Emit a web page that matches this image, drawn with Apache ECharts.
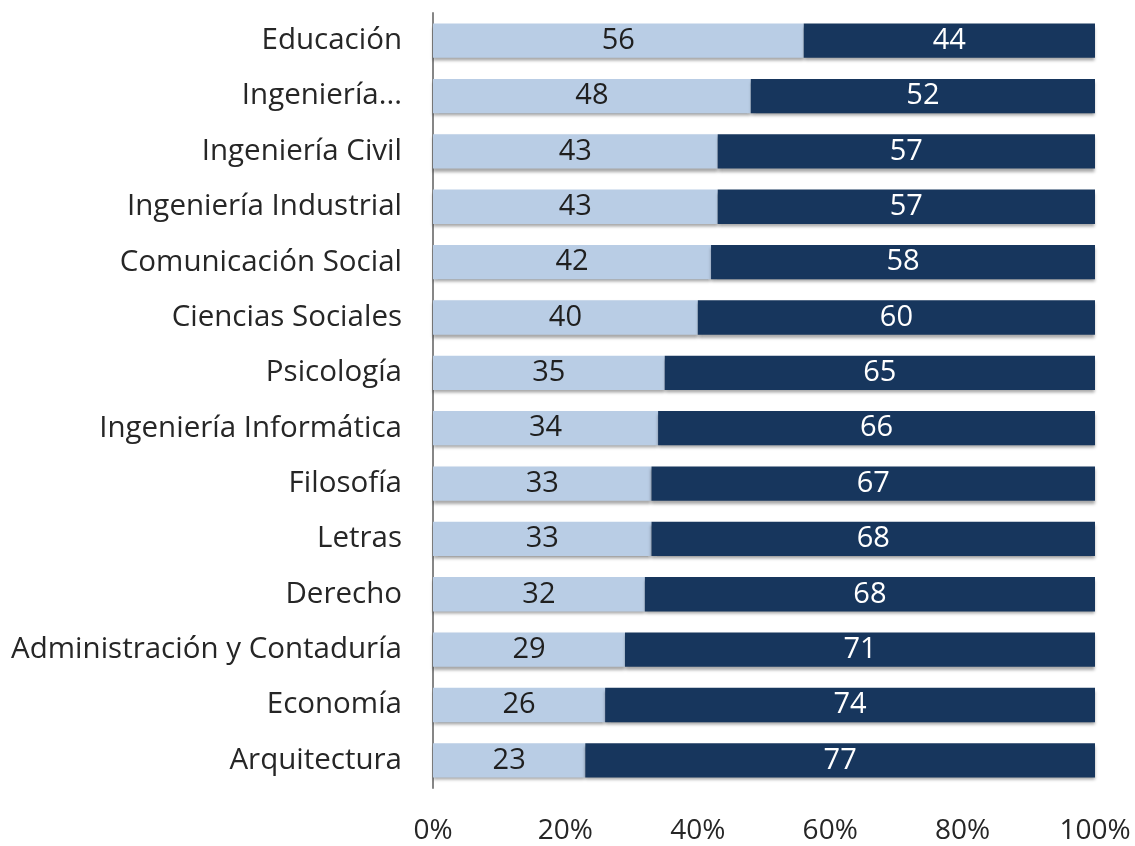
<!DOCTYPE html>
<html>
<head>
<meta charset="utf-8">
<script src="https://cdn.jsdelivr.net/npm/echarts@6/dist/echarts.min.js"></script>
<style>
  html, body { margin: 0; padding: 0; background: #fff; }
  #chart { width: 1135px; height: 846px; }
</style>
</head>
<body>
<div id="chart"></div>
<script>
  // carreras, de arriba hacia abajo
  var categories = ['Educación', 'Ingeniería...', 'Ingeniería Civil', 'Ingeniería Industrial',
    'Comunicación Social', 'Ciencias Sociales', 'Psicología', 'Ingeniería Informática',
    'Filosofía', 'Letras', 'Derecho', 'Administración y Contaduría', 'Economía', 'Arquitectura'];
  var lightValues = [56, 48, 43, 43, 42, 40, 35, 34, 33, 33, 32, 29, 26, 23];
  var darkValues = [44, 52, 57, 57, 58, 60, 65, 66, 67, 68, 68, 71, 74, 77];
  var tickValues = [0, 20, 40, 60, 80, 100];

  var font = '"Open Sans", sans-serif';
  var shadow = {
    shadowColor: 'rgba(0,0,0,0.35)',
    shadowOffsetY: 3,
    shadowBlur: 3
  };

  var chart = echarts.init(document.getElementById('chart'));
  chart.setOption({
    animation: false,
    grid: { left: 433, right: 40, top: 13, bottom: 58 },
    xAxis: {
      type: 'value',
      min: tickValues[0],
      max: tickValues[tickValues.length - 1],
      interval: 20,
      axisLine: { show: false },
      axisTick: { show: false },
      splitLine: { show: false },
      axisLabel: {
        formatter: '{value}%',
        color: '#262626',
        fontSize: 28,
        fontFamily: font,
        margin: 29
      }
    },
    yAxis: {
      type: 'category',
      inverse: true,
      data: categories,
      axisLine: { show: true, lineStyle: { color: '#868686', width: 2 } },
      axisTick: { show: false },
      axisLabel: {
        color: '#262626',
        fontSize: 29.5,
        fontFamily: font,
        margin: 31
      }
    },
    series: [{
      type: 'bar',
      stack: 'total',
      barWidth: '62%',
      data: lightValues,
      itemStyle: Object.assign({ color: '#b9cde5' }, shadow),
      label: {
        show: true,
        position: 'inside',
        color: '#1f1f1f',
        fontSize: 29,
        fontFamily: font
      }
    }, {
      type: 'bar',
      stack: 'total',
      barWidth: '62%',
      data: darkValues,
      itemStyle: Object.assign({ color: '#17365d' }, shadow),
      label: {
        show: true,
        position: 'inside',
        color: '#ffffff',
        fontSize: 29,
        fontFamily: font
      }
    }]
  });
</script>
</body>
</html>
